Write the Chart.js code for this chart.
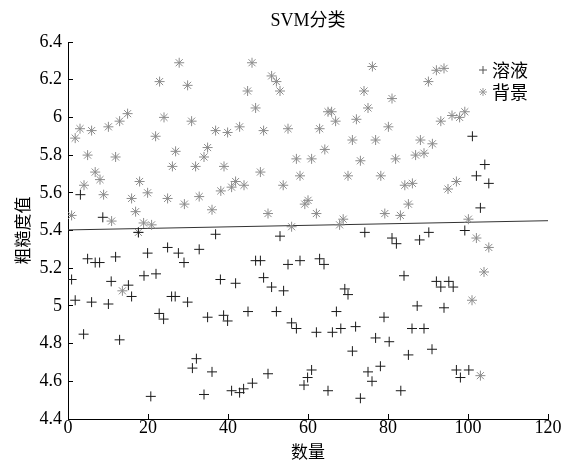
<!DOCTYPE html>
<html>
<head>
<meta charset="utf-8">
<title>SVM分类</title>
<script src="https://cdn.jsdelivr.net/npm/chart.js@4.4.1/dist/chart.umd.min.js"></script>
<style>
  html, body { margin: 0; padding: 0; background: #fff; }
  canvas { display: block; }
</style>
</head>
<body>
<canvas id="chartSvm" width="566" height="463"></canvas>
<script>
// 溶液 (+)
const solutionX = [0.9, 1.8, 3.1, 3.9, 4.9, 5.9, 6.8, 7.9, 8.7, 10.1, 10.8, 11.9, 12.9, 15.1, 15.9, 17.6, 19.0, 19.9, 20.7, 22.0,
  22.8, 23.9, 24.9, 25.9, 26.8, 27.6, 29.0, 29.9, 31.1, 32.1, 32.8, 34.0, 34.9, 36.0, 36.9, 38.1, 38.9, 39.9, 40.9, 41.9,
  42.9, 43.9, 45.0, 46.1, 46.9, 48.1, 48.9, 50.0, 50.9, 52.1, 53.0, 53.9, 55.0, 55.9, 57.1, 58.0, 59.0, 59.9, 60.9, 62.1,
  62.9, 64.0, 65.0, 66.1, 67.1, 68.2, 69.2, 70.0, 71.1, 71.9, 73.1, 74.2, 75.0, 76.0, 76.9, 78.1, 79.0, 80.3, 81.0, 82.1,
  83.2, 84.0, 85.1, 86.0, 87.3, 87.9, 89.0, 90.2, 91.0, 92.1, 93.2, 94.0, 95.2, 96.3, 97.1, 98.1, 99.2, 100.2, 101.1, 102.1,
  103.1, 104.2, 105.2]
const solutionY = [5.14, 5.03, 5.59, 4.85, 5.25, 5.02, 5.23, 5.23, 5.47, 5.01, 5.13, 5.26, 4.82, 5.11, 5.05, 5.39, 5.16, 5.28, 4.52, 5.17,
  4.96, 4.93, 5.31, 5.05, 5.05, 5.28, 5.23, 5.02, 4.67, 4.72, 5.30, 4.53, 4.94, 4.65, 5.38, 5.14, 4.95, 4.92, 4.55, 5.12,
  4.54, 4.56, 4.97, 4.59, 5.24, 5.24, 5.15, 4.64, 5.10, 4.97, 5.37, 5.08, 5.22, 4.91, 4.88, 5.24, 4.58, 4.62, 4.66, 4.86,
  5.25, 5.22, 4.55, 4.86, 4.97, 4.88, 5.09, 5.06, 4.76, 4.89, 4.51, 5.39, 4.65, 4.60, 4.83, 4.68, 4.94, 4.81, 5.36, 5.33,
  4.55, 5.16, 4.74, 4.88, 5.00, 5.35, 4.88, 5.39, 4.77, 5.13, 5.10, 4.99, 5.13, 5.10, 4.66, 4.62, 5.40, 4.66, 5.90, 5.69,
  5.52, 5.75, 5.65]

// 背景 (*)
const backgroundX = [0.9, 1.8, 3.0, 4.0, 4.9, 5.9, 6.8, 8.0, 8.9, 10.1, 10.9, 11.9, 12.9, 13.6, 14.9, 15.9, 16.9, 17.6, 17.9, 18.9,
  19.9, 20.9, 21.9, 22.9, 24.0, 24.9, 26.1, 26.9, 27.8, 29.1, 29.9, 30.9, 31.9, 32.8, 34.0, 34.9, 36.0, 36.9, 38.2, 39.0,
  39.9, 40.9, 41.9, 42.9, 44.0, 44.9, 46.0, 46.9, 48.1, 48.9, 50.0, 50.9, 52.1, 53.0, 53.8, 55.0, 55.9, 57.1, 58.0, 59.2,
  60.0, 60.9, 62.1, 62.9, 64.2, 65.0, 65.9, 66.9, 67.9, 68.8, 70.0, 71.1, 72.1, 73.1, 74.0, 75.0, 76.1, 76.9, 78.2, 79.2,
  80.1, 81.0, 81.9, 83.1, 84.2, 85.1, 86.1, 86.9, 88.1, 89.0, 90.1, 91.1, 92.1, 93.2, 94.0, 95.0, 96.0, 97.1, 97.9, 99.2,
  100.1, 101.0, 102.1, 103.1, 104.0, 105.2]
const backgroundY = [5.48, 5.89, 5.94, 5.64, 5.80, 5.93, 5.71, 5.67, 5.59, 5.95, 5.45, 5.79, 5.98, 5.08, 6.02, 5.57, 5.50, 5.39, 5.66, 5.44,
  5.60, 5.43, 5.90, 6.19, 6.00, 5.57, 5.74, 5.82, 6.29, 5.54, 6.17, 5.98, 5.74, 5.58, 5.79, 5.84, 5.51, 5.93, 5.61, 5.74,
  5.92, 5.63, 5.66, 5.95, 5.64, 6.14, 6.29, 6.05, 5.71, 5.93, 5.49, 6.22, 6.19, 6.14, 5.64, 5.94, 5.42, 5.78, 5.69, 5.54,
  5.56, 5.78, 5.49, 5.94, 5.83, 6.03, 6.03, 5.98, 5.43, 5.46, 5.69, 5.88, 5.99, 5.77, 6.14, 6.05, 6.27, 5.88, 5.69, 5.49,
  5.95, 6.10, 5.78, 5.48, 5.64, 5.54, 5.65, 5.80, 5.88, 5.81, 6.19, 5.86, 6.25, 5.98, 6.26, 5.62, 6.01, 5.66, 6.00, 6.03,
  5.46, 5.03, 5.36, 4.63, 5.18, 5.31]

// 分类边界
const boundaryX = [0, 120]
const boundaryY = [5.403, 5.452]

const xTicks = [0, 20, 40, 60, 80, 100, 120]
const yTicks = [4.4, 4.6, 4.8, 5, 5.2, 5.4, 5.6, 5.8, 6, 6.2, 6.4]

const legendNames = ['溶液', '背景']

const toPoints = (xs, ys) => xs.map((x, i) => ({ x: x, y: ys[i] }))

const serif = "'Liberation Serif', 'Noto Sans CJK SC', serif"
const cjk = "'Noto Sans CJK SC', 'Liberation Serif', sans-serif"

// legend drawn inside the plot, top right, like the MATLAB one
const insideLegend = {
  id: 'insideLegend',
  afterDraw(chart) {
    const c = chart.ctx
    const area = chart.chartArea
    const x = area.right - 65
    const rows = [
      { y: area.top + 28, style: 'cross', color: '#555' },
      { y: area.top + 50, style: 'star', color: '#999' }
    ]
    c.save()
    rows.forEach((r, i) => {
      c.strokeStyle = r.color
      c.lineWidth = 1
      Chart.helpers.drawPoint(c, { pointStyle: r.style, radius: 4, rotation: 0, borderWidth: 1 }, x, r.y)
      c.fillStyle = '#000'
      c.font = '18px ' + cjk
      c.textBaseline = 'middle'
      c.textAlign = 'left'
      c.fillText(legendNames[i], x + 9, r.y)
    })
    c.restore()
  }
}

const ctx = document.getElementById('chartSvm').getContext('2d')

const chartSvm = new Chart(ctx, {
  type: 'scatter',
  data: {
    datasets: [
      {
        label: legendNames[0],
        data: toPoints(solutionX, solutionY),
        pointStyle: 'cross',
        pointRadius: 5,
        borderColor: '#1a1a1a',
        borderWidth: 1,
        backgroundColor: '#1a1a1a'
      },
      {
        label: legendNames[1],
        data: toPoints(backgroundX, backgroundY),
        pointStyle: 'star',
        pointRadius: 5,
        borderColor: '#8c8c8c',
        borderWidth: 1,
        backgroundColor: '#8c8c8c'
      },
      {
        label: '边界',
        type: 'line',
        data: toPoints(boundaryX, boundaryY),
        borderColor: '#333',
        borderWidth: 1,
        pointRadius: 0,
        fill: false
      }
    ]
  },
  options: {
    responsive: false,
    animation: false,
    devicePixelRatio: 1,
    layout: { padding: { left: 0, right: 18, top: 0, bottom: 0 } },
    scales: {
      x: {
        type: 'linear',
        min: 0,
        max: 120,
        afterBuildTicks: (s) => { s.ticks = xTicks.map((v) => ({ value: v })) },
        afterFit: (s) => { s.height = 44 },
        grid: { drawOnChartArea: false, drawTicks: true, tickLength: -5, color: '#000' },
        border: { display: true, color: '#000', width: 1 },
        ticks: { color: '#000', padding: 3, maxRotation: 0, font: { family: serif, size: 18 } },
        title: {
          display: true,
          text: '数量',
          color: '#000',
          padding: { top: 0, bottom: 1 },
          font: { family: cjk, size: 17 }
        }
      },
      y: {
        type: 'linear',
        min: 4.4,
        max: 6.4,
        afterBuildTicks: (s) => { s.ticks = yTicks.map((v) => ({ value: v })) },
        afterFit: (s) => { s.width = 68 },
        grid: { drawOnChartArea: false, drawTicks: true, tickLength: -5, color: '#000' },
        border: { display: true, color: '#000', width: 1 },
        ticks: {
          color: '#000',
          padding: 11,
          font: { family: serif, size: 18 },
          callback: (v) => String(parseFloat(Number(v).toFixed(1)))
        },
        title: {
          display: true,
          text: '粗糙度值',
          color: '#000',
          padding: { top: 12, bottom: 0 },
          font: { family: cjk, size: 17 }
        }
      }
    },
    plugins: {
      title: {
        display: true,
        text: 'SVM分类',
        color: '#000',
        fullSize: false,
        padding: { top: 10, bottom: 10.4 },
        font: { family: serif, size: 18, weight: 'normal' }
      },
      legend: { display: false },
      tooltip: { enabled: false }
    }
  },
  plugins: [insideLegend]
})
</script>
</body>
</html>
